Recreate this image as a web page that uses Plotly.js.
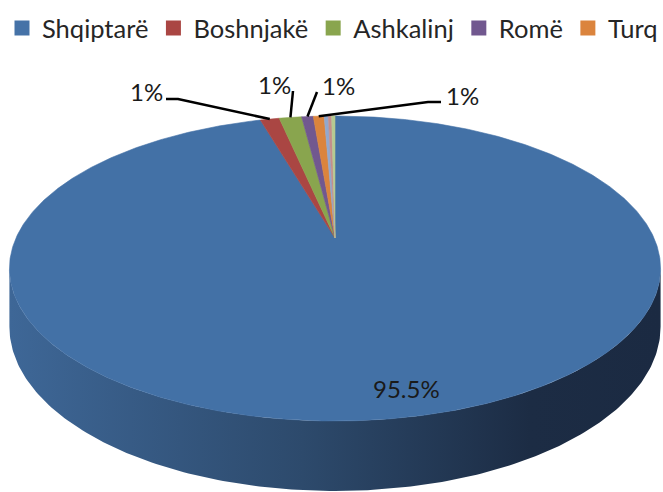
<!DOCTYPE html>
<html>
<head>
<meta charset="utf-8">
<script src="https://cdn.plot.ly/plotly-3.0.1.min.js"></script>
<style>html,body{margin:0;padding:0;background:#fff;}#chart{width:663px;height:492px;}</style>
</head>
<body>
<div id="chart"></div>
<script>
// ---- data ----
const categories = ['Shqiptarë', 'Boshnjakë', 'Ashkalinj', 'Romë', 'Turq', 'Egjiptianë', 'Goranë', 'Të tjerë'];
const shares = [95.5, 1.15, 1.35, 0.7, 0.65, 0.25, 0.2, 0.2];
const labelTexts = ['95.5%', '1%', '1%', '1%', '1%', '', '', ''];
const inLegend = [true, true, true, true, true, false, false, false];

// ---- styles ----
const colors = ['#4572A7', '#AA4643', '#89A54E', '#71588F', '#DB843D', '#92A8CD', '#C48E8C', '#B5CA92'];
const topColors = ['#4371A6', '#AA4643', '#89A54E', '#71588F', '#DB843D', '#92A8CD', '#C48E8C', '#B5CA92'];
const FONT = 'Lato, "Open Sans", sans-serif';

// ---- 3D pie geometry (layout, pixel space) ----
const G = {cx: 335, cy: 238, A: 319, B: 146.4, p: 0.2, H: 56};
function proj(phi, drop) {
  const X = Math.sin(phi), Z = Math.cos(phi);
  const w = 1 + G.p * Z;
  return [G.cx + G.A * X / w, G.cy - G.B * Z / w + (drop || 0) / w];
}
// label placement (layout positions) and leader elbows
const labelPos = {
  0: {x: 406, y: 388},
  1: {x: 146, y: 91, leader: [[166, 99], [178, 99]]},
  2: {x: 274, y: 84, leader: [[293, 91]]},
  3: {x: 338, y: 85, leader: [[317, 92]]},
  4: {x: 462, y: 95, leader: [[441, 102], [428, 102]]}
};

const total = shares.reduce((a, b) => a + b, 0);
const traces = [];

// side wall (front visible part)
const phiR = Math.acos(-G.p), phiL = 2 * Math.PI - phiR;
{
  const xs = [], ys = [];
  const N = 200;
  for (let k = 0; k <= N; k++) {
    const ph = phiR + (phiL - phiR) * k / N;
    const [x, y] = proj(ph, G.H);
    xs.push(x); ys.push(y);
  }
  for (let k = N; k >= 0; k--) {
    const ph = phiR + (phiL - phiR) * k / N;
    const [x, y] = proj(ph, 0);
    xs.push(x); ys.push(y);
  }
  traces.push({
    type: 'scatter', x: xs, y: ys, mode: 'lines', fill: 'toself',
    line: {width: 0, color: '#2c4869'},
    fillgradient: {type: 'horizontal', colorscale: [[0, '#3E6797'], [0.45, '#2D4A6C'], [0.8, '#1C2C44'], [1, '#1B2A42']]},
    showlegend: false, hoverinfo: 'skip'
  });
}

// top-face slices
const mids = [];
let cum = 0;
shares.forEach((v, i) => {
  const a0 = 2 * Math.PI * cum / total;
  const a1 = 2 * Math.PI * (cum + v) / total;
  mids.push((a0 + a1) / 2);
  const n = Math.max(6, Math.ceil((a1 - a0) / (2 * Math.PI) * 720));
  const xs = [G.cx], ys = [G.cy];
  for (let k = 0; k <= n; k++) {
    const [x, y] = proj(a0 + (a1 - a0) * k / n, 0);
    xs.push(x); ys.push(y);
  }
  xs.push(G.cx); ys.push(G.cy);
  traces.push({
    type: 'scatter', x: xs, y: ys, mode: 'lines', fill: 'toself',
    fillcolor: topColors[i], line: {width: 0.6, color: topColors[i]},
    name: categories[i], showlegend: false, hoverinfo: 'skip'
  });
  cum += v;
});

// leader lines and labels
const annotations = [];
shares.forEach((v, i) => {
  const lp = labelPos[i];
  if (!lp || !labelTexts[i]) return;
  if (lp.leader) {
    const end = proj(mids[i], 0);
    const pts = lp.leader.concat([end]);
    traces.push({
      type: 'scatter', x: pts.map(p => p[0]), y: pts.map(p => p[1]), mode: 'lines',
      line: {color: '#000000', width: 2.5}, showlegend: false, hoverinfo: 'skip'
    });
  }
  annotations.push({
    x: lp.x, y: lp.y, xref: 'x', yref: 'y', text: labelTexts[i], showarrow: false,
    xanchor: 'center', yanchor: 'middle', font: {family: FONT, size: 24, color: '#1a1a1a'}
  });
});

// legend entries
categories.forEach((c, i) => {
  if (!inLegend[i]) return;
  traces.push({
    type: 'scatter', x: [null], y: [null], mode: 'markers', name: c,
    marker: {symbol: 'square', size: 15, color: colors[i]}, hoverinfo: 'skip'
  });
});

const layout = {
  width: 663, height: 492,
  margin: {l: 0, r: 0, t: 0, b: 0, pad: 0},
  paper_bgcolor: '#ffffff', plot_bgcolor: '#ffffff',
  xaxis: {range: [0, 663], visible: false, fixedrange: true},
  yaxis: {range: [492, 0], visible: false, fixedrange: true},
  showlegend: true,
  legend: {
    orientation: 'h', x: 0.0095, y: 0.99, xanchor: 'left', yanchor: 'top',
    font: {family: FONT, size: 25.5, color: '#262626'},
    bgcolor: 'rgba(0,0,0,0)', itemsizing: 'trace', traceorder: 'normal'
  },
  annotations: annotations,
  font: {family: FONT}
};

Plotly.newPlot('chart', traces, layout, {staticPlot: true, displayModeBar: false});
</script>
</body>
</html>
